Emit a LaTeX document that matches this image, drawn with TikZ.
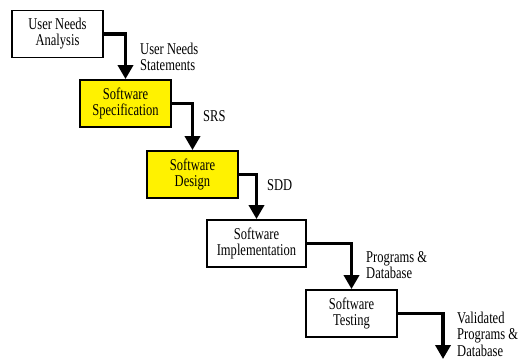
\documentclass[tikz,border=0pt]{standalone}
\usepackage{fontspec}
\setmainfont{Liberation Serif}[FakeStretch=0.76]
\usetikzlibrary{arrows.meta}
\begin{document}
\begin{tikzpicture}[x=1pt,y=-1pt,
  phase/.style={draw=black, line width=1.8pt, minimum width=91pt, minimum height=47pt,
    inner sep=0pt, align=center, font=\fontsize{16.5}{16}\selectfont},
  hl/.style={fill=yellow},
  flow/.style={line width=3.5pt, -{Triangle[length=14pt,width=15pt]}},
  doc/.style={anchor=west, align=left, inner sep=0pt, font=\fontsize{16.5}{16.5}\selectfont}]
\useasboundingbox (0,0) rectangle (519,360);
\node[phase] (una) at (57.5,34) {User Needs\\Analysis};
\node[phase,hl] (spec) at (125.5,103.5) {Software\\Specification};
\node[phase,hl] (des) at (192.5,174.5) {Software\\Design};
\node[phase,minimum width=99pt] (impl) at (256.5,243.5) {Software\\Implementation};
\node[phase] (test) at (351.5,313.5) {Software\\Testing};
\coordinate (out) at (443,359);
\draw[flow] (una.east) -| (spec.north);
\draw[flow] (spec.east) -| (des.north);
\draw[flow] (des.east) -| (impl.north);
\draw[flow] (impl.east) -| (test.north);
\draw[flow] (test.east) -| (out);
\node[doc] (l1) at (140,57) {User Needs\\Statements};
\node[doc] (l2) at (203,116) {SRS};
\node[doc] (l3) at (267,185) {SDD};
\node[doc] (l4) at (366,265) {Programs \&\\Database};
\node[doc] (l5) at (457,334) {Validated\\Programs \&\\Database};
\end{tikzpicture}
\end{document}
